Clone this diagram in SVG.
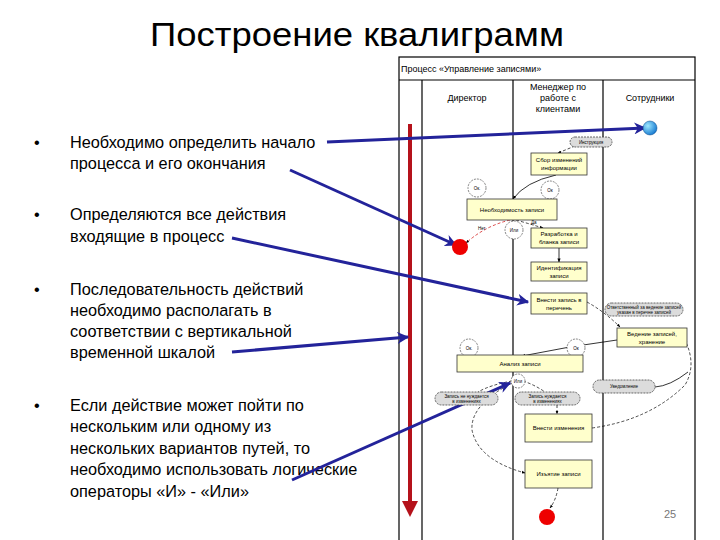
<svg xmlns="http://www.w3.org/2000/svg" width="720" height="540" viewBox="0 0 720 540">
<defs>
<style>
.title{font-family:"Liberation Sans","DejaVu Sans",sans-serif;font-size:34px;fill:#000}
.body{font-family:"Liberation Sans","DejaVu Sans",sans-serif;font-size:16.3px;fill:#000}
.hdr{font-family:"Liberation Sans","DejaVu Sans",sans-serif;font-size:9px;fill:#000}
.sm{font-family:"Liberation Sans","DejaVu Sans",sans-serif;font-size:6px;fill:#000}
.tiny{font-family:"Liberation Sans","DejaVu Sans",sans-serif;font-size:4.5px;fill:#000}
.lane{stroke:#000;stroke-width:1.2;fill:none}
.box{fill:#ffffcc;stroke:#333;stroke-width:0.8}
.circ{fill:#fff;stroke:#555;stroke-width:0.7;stroke-dasharray:2 1}
.oval{fill:#dcdcdc;stroke:#444;stroke-width:0.8;stroke-dasharray:2 1}
.dash{fill:none;stroke:#000;stroke-width:0.7;stroke-dasharray:3 2}
.solid{fill:none;stroke:#000;stroke-width:0.8}
.blue{stroke:#23239a;stroke-width:3;fill:none}
</style>
<marker id="ab" viewBox="0 0 10 10" refX="9" refY="5" markerWidth="4" markerHeight="4" orient="auto" markerUnits="strokeWidth"><path d="M0,0 L10,5 L0,10 L3,5 z" fill="#23239a"/></marker>
<marker id="ak" viewBox="0 0 10 10" refX="9" refY="5" markerWidth="5" markerHeight="5" orient="auto" markerUnits="strokeWidth"><path d="M0,1 L10,5 L0,9 z" fill="#000"/></marker>
<radialGradient id="gb" cx="0.35" cy="0.35" r="0.7"><stop offset="0" stop-color="#9ee8ff"/><stop offset="1" stop-color="#1478d0"/></radialGradient>
</defs>
<rect width="720" height="540" fill="#fff"/>

<g id="title"><text class="title" x="357" y="46" text-anchor="middle" textLength="414" lengthAdjust="spacingAndGlyphs">Построение квалиграмм</text></g>

<g id="bullets">
<text class="body" x="34" y="148">•</text>
<text class="body" x="70" y="148">Необходимо определить начало</text>
<text class="body" x="70" y="169">процесса и его окончания</text>
<text class="body" x="34" y="220">•</text>
<text class="body" x="70" y="220">Определяются все действия</text>
<text class="body" x="70" y="242">входящие в процесс</text>
<text class="body" x="34" y="295">•</text>
<text class="body" x="70" y="295">Последовательность действий</text>
<text class="body" x="70" y="316">необходимо располагать в</text>
<text class="body" x="70" y="337">соответствии с вертикальной</text>
<text class="body" x="70" y="358">временной шкалой</text>
<text class="body" x="34" y="411">•</text>
<text class="body" x="70" y="411">Если действие может пойти по</text>
<text class="body" x="70" y="432">нескольким или одному из</text>
<text class="body" x="70" y="454">нескольких вариантов путей, то</text>
<text class="body" x="70" y="475">необходимо использовать логические</text>
<text class="body" x="70" y="497">операторы «И» - «Или»</text>
</g>

<g id="frame">
<rect x="399" y="57" width="296" height="490" fill="#fff" stroke="#000" stroke-width="1.2"/>
<line class="lane" x1="399" y1="80" x2="695" y2="80"/>
<line class="lane" x1="422" y1="80" x2="422" y2="540"/>
<line class="lane" x1="513" y1="80" x2="513" y2="540"/>
<line class="lane" x1="603" y1="80" x2="603" y2="540"/>
<text class="hdr" x="401" y="72">Процесс «Управление записями»</text>
<text class="hdr" x="467" y="101" text-anchor="middle">Директор</text>
<text class="hdr" x="558" y="90" text-anchor="middle">Менеджер по</text>
<text class="hdr" x="558" y="101" text-anchor="middle">работе с</text>
<text class="hdr" x="558" y="112" text-anchor="middle">клиентами</text>
<text class="hdr" x="650" y="101" text-anchor="middle">Сотрудники</text>
</g>

<g id="connectors">
<path class="dash" d="M575,146 L558,153" marker-end="url(#ak)"/>
<path class="solid" d="M556,175 Q525,182 513,199" marker-end="url(#ak)"/>
<path d="M510,220 Q485,226 466,243" fill="none" stroke="#c00" stroke-width="0.7" stroke-dasharray="3 2" marker-end="url(#ak)"/>
<text class="tiny" x="478" y="230" fill="#c00">Нет</text>
<path class="dash" d="M516,220 Q530,224 543,228" marker-end="url(#ak)"/>
<text class="tiny" x="531" y="224">Да</text>
<path class="solid" d="M559,248 L559,262" marker-end="url(#ak)"/>
<path class="dash" d="M587,302 Q605,312 620,327" marker-end="url(#ak)"/>
<path class="solid" d="M617,340 Q570,346 522,356" marker-end="url(#ak)"/>
<path class="dash" d="M592,428 Q650,420 685,385 Q697,365 685,340" marker-end="url(#ak)"/>
<path class="solid" d="M655,387 Q670,386 688,372"/>
<path class="dash" d="M512,381 Q490,385 478,392"/>
<path class="dash" d="M523,381 Q535,385 545,392"/>
<path class="dash" d="M557,405 L557,414" marker-end="url(#ak)"/>
<path class="dash" d="M512,383 Q470,405 472,430 Q478,460 525,473" marker-end="url(#ak)"/>
<path class="dash" d="M558,488 Q556,500 550,508" marker-end="url(#ak)"/>
<line x1="410" y1="124" x2="410" y2="502" stroke="#b5121b" stroke-width="4"/>
<path d="M402,501 L418,501 L410,517 z" fill="#b5121b"/>
<line class="blue" x1="327" y1="142" x2="645" y2="128" marker-end="url(#ab)"/>
<line class="blue" x1="290" y1="170" x2="456" y2="245" marker-end="url(#ab)"/>
<line class="blue" x1="232" y1="238" x2="528" y2="302" marker-end="url(#ab)"/>
<line class="blue" x1="232" y1="352" x2="408" y2="337" marker-end="url(#ab)"/>
<line class="blue" x1="292" y1="480" x2="510" y2="383" marker-end="url(#ab)"/>
</g>

<g id="start"><circle cx="650" cy="128" r="7" fill="url(#gb)" stroke="#0a4a8a" stroke-width="0.5"/></g>
<g id="n-instr"><rect class="oval" x="570" y="137" width="42" height="10" rx="5"/><text class="tiny" x="591" y="143.5" text-anchor="middle">Инструкция</text></g>
<g id="n-sbor"><rect class="box" x="531" y="153" width="56" height="22"/><text class="sm" x="559" y="162" text-anchor="middle">Сбор изменений</text><text class="sm" x="559" y="170" text-anchor="middle">информации</text></g>
<g id="c-ok1"><circle class="circ" cx="477" cy="188" r="9"/><text class="tiny" x="477" y="190" text-anchor="middle">Ок.</text></g>
<g id="c-ok2"><circle class="circ" cx="550" cy="190" r="9"/><text class="tiny" x="550" y="192" text-anchor="middle">Ок</text></g>
<g id="n-need"><rect class="box" x="467" y="199" width="90" height="21"/><text class="sm" x="512" y="212" text-anchor="middle">Необходимость записи</text></g>
<g id="c-or1"><circle class="circ" cx="514" cy="230" r="9"/><text class="tiny" x="514" y="232" text-anchor="middle">Или</text></g>
<g id="end1"><circle cx="460" cy="247" r="8" fill="#e00"/></g>
<g id="n-dev"><rect class="box" x="531" y="228" width="56" height="20"/><text class="sm" x="559" y="236" text-anchor="middle">Разработка и</text><text class="sm" x="559" y="244" text-anchor="middle">бланка записи</text></g>
<g id="n-ident"><rect class="box" x="531" y="262" width="56" height="19"/><text class="sm" x="559" y="270" text-anchor="middle">Идентификация</text><text class="sm" x="559" y="278" text-anchor="middle">записи</text></g>
<g id="n-list"><rect class="box" x="531" y="293" width="56" height="21"/><text class="sm" x="559" y="302" text-anchor="middle">Внести запись в</text><text class="sm" x="559" y="310" text-anchor="middle">перечень</text></g>
<g id="n-resp"><rect class="oval" x="605" y="303" width="78" height="13" rx="6.5"/><text class="tiny" x="644" y="308.5" text-anchor="middle">Ответственный за ведение записей</text><text class="tiny" x="644" y="314" text-anchor="middle">указан в перечне записей</text></g>
<g id="n-keep"><rect class="box" x="617" y="328" width="70" height="19"/><text class="sm" x="652" y="336" text-anchor="middle">Ведение записей,</text><text class="sm" x="652" y="344" text-anchor="middle">хранение</text></g>
<g id="c-ok3"><circle class="circ" cx="469" cy="348" r="9"/><text class="tiny" x="469" y="350" text-anchor="middle">Ок.</text></g>
<g id="c-ok4"><circle class="circ" cx="576" cy="348" r="9"/><text class="tiny" x="576" y="350" text-anchor="middle">Ок</text></g>
<g id="n-anal"><rect class="box" x="457" y="355" width="126" height="17"/><text class="sm" x="520" y="366" text-anchor="middle">Анализ записи</text></g>
<g id="c-or2"><circle class="circ" cx="518" cy="381" r="7" stroke-dasharray="none"/><text class="tiny" x="518" y="383" text-anchor="middle">Или</text></g>
<g id="n-noch"><rect class="oval" x="435" y="392" width="63" height="13" rx="6.5"/><text class="tiny" x="466.5" y="397.5" text-anchor="middle">Запись не нуждается</text><text class="tiny" x="466.5" y="403" text-anchor="middle">в изменениях</text></g>
<g id="n-ch"><rect class="oval" x="515" y="392" width="65" height="13" rx="6.5"/><text class="tiny" x="547.5" y="397.5" text-anchor="middle">Запись нуждается</text><text class="tiny" x="547.5" y="403" text-anchor="middle">в изменениях</text></g>
<g id="n-notif"><rect class="oval" x="593" y="380" width="62" height="13" rx="6.5"/><text class="tiny" x="624" y="388" text-anchor="middle">Уведомление</text></g>
<g id="n-edit"><rect class="box" x="525" y="414" width="67" height="28"/><text class="sm" x="558.5" y="430" text-anchor="middle">Внести изменения</text></g>
<g id="n-remove"><rect class="box" x="525" y="460" width="67" height="28"/><text class="sm" x="558.5" y="476" text-anchor="middle">Изъятие записи</text></g>
<g id="end2"><circle cx="547" cy="517" r="8" fill="#e00"/></g>
<g id="page"><text x="670" y="518" text-anchor="middle" font-family="Liberation Sans, sans-serif" font-size="11" fill="#777">25</text></g>
</svg>
